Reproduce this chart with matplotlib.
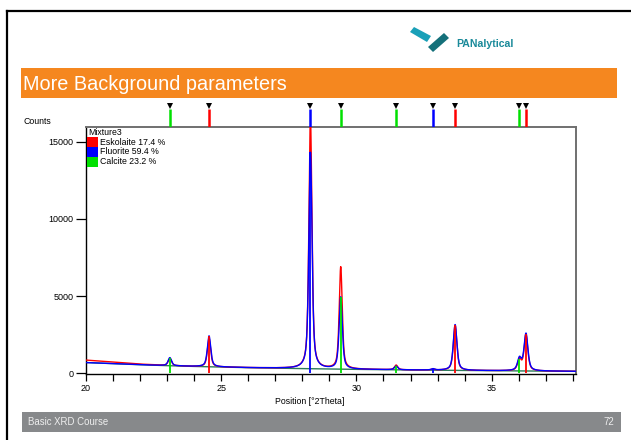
import numpy as np
import matplotlib
matplotlib.use("Agg")
import matplotlib.pyplot as plt
from matplotlib.patches import Rectangle, Polygon
from matplotlib.lines import Line2D

plt.rcParams['font.family'] = ['Liberation Sans', 'DejaVu Sans']

W, H = 631, 440

# ---- data -------------------------------------------------------------
phase_names = ["Eskolaite 17.4 %", "Fluorite 59.4 %", "Calcite 23.2 %"]
phase_colors = ["#ff0000", "#0000ff", "#00e000"]

# reflections: position (°2θ), phase index, calculated and observed net heights
peak_pos = [23.10, 24.55, 28.30, 29.42, 31.47, 32.83, 33.65, 36.03, 36.27]
peak_phase = [2, 0, 1, 2, 2, 1, 0, 2, 0]
peak_calc = [520, 2000, 14000, 4650, 230, 80, 2960, 780, 2400]
peak_obs = [480, 1850, 16200, 6600, 300, 60, 2920, 720, 2330]
peak_fwhm = [0.15, 0.15, 0.14, 0.14, 0.15, 0.15, 0.16, 0.17, 0.17]

# background control points
bg_pos = [20.0, 21.0, 22.0, 23.0, 24.0, 25.0, 26.0, 28.0, 30.0, 32.0, 34.0, 36.0, 38.2]
bg_calc = [700, 630, 560, 500, 450, 410, 370, 310, 260, 220, 190, 160, 130]
bg_obs = [860, 730, 600, 510, 450, 410, 370, 310, 260, 220, 190, 160, 130]

x_ticks_major = [20, 25, 30, 35]
y_ticks = [0, 5000, 10000, 15000]


def pseudo_voigt(x, x0, h, fwhm, eta=0.6):
    g = np.exp(-4 * np.log(2) * ((x - x0) / fwhm) ** 2)
    l = 1.0 / (1 + 4 * ((x - x0) / fwhm) ** 2)
    return h * (eta * l + (1 - eta) * g)


def px(x):
    return x / W


def py(y):
    return 1 - y / H


fig = plt.figure(figsize=(W / 100, H / 100), dpi=100)
fig.patch.set_facecolor("white")

# ---- slide decoration -------------------------------------------------
fig.add_artist(Line2D([px(7), px(7)], [py(11), 0], color="black", lw=1.6))
fig.add_artist(Line2D([px(7), 1], [py(11), py(11)], color="black", lw=1.6))

fig.add_artist(Rectangle((px(21), py(98)), px(617 - 21), 30 / H,
                         facecolor="#f5871f", edgecolor="none"))
fig.text(px(23), py(84), "More Background parameters", color="white",
         fontsize=14.3, va="center", ha="left")

fig.add_artist(Rectangle((px(22), py(432)), px(621 - 22), 20 / H,
                         facecolor="#87898b", edgecolor="none"))
fig.text(px(28), py(422), "Basic XRD Course", color="#eeeeee", fontsize=6.9,
         va="center", ha="left")
fig.text(px(614), py(422), "72", color="#eeeeee", fontsize=6.9,
         va="center", ha="right")

# logo
fig.add_artist(Polygon([(px(410), py(32)), (px(414), py(27)),
                        (px(431), py(36)), (px(427), py(42))],
                       closed=True, facecolor="#1aa0b8", edgecolor="none"))
fig.add_artist(Polygon([(px(428), py(47)), (px(444), py(33)),
                        (px(449), py(38)), (px(433), py(52))],
                       closed=True, facecolor="#14707a", edgecolor="none"))
fig.text(px(456), py(44), "PANalytical", color="#1a8a9a", fontsize=7.6,
         fontweight="bold", va="center", ha="left")

# ---- main axes --------------------------------------------------------
ax = fig.add_axes([px(86), py(374), px(576 - 86), (374 - 127) / H])
x = np.arange(20.0, 38.2, 0.005)

calc = np.interp(x, bg_pos, bg_calc).astype(float)
obs = np.interp(x, bg_pos, bg_obs).astype(float)
for p, hc, ho, w in zip(peak_pos, peak_calc, peak_obs, peak_fwhm):
    calc += pseudo_voigt(x, p, hc, w)
    obs += pseudo_voigt(x, p, ho, w * 0.95)

ax.plot(x, obs, color="#ff0000", lw=1.0, zorder=3)
ax.plot(x, calc, color="#0000ff", lw=1.0, zorder=4)
ax.plot(bg_pos, bg_calc, color="#2c7a5a", lw=1.0, zorder=2)

# reflection sticks inside the plot
for p, ph, hc in zip(peak_pos, peak_phase, peak_calc):
    base = np.interp(p, bg_pos, bg_calc)
    ax.vlines(p, 0, base + hc, color=phase_colors[ph], lw=1.3, zorder=5)

ax.set_xlim(20, 38.12)
ax.set_ylim(-40, 15950)
ax.set_xticks(x_ticks_major)
ax.set_xticks(range(20, 39), minor=True)
ax.set_yticks(y_ticks)
ax.tick_params(axis="both", labelsize=6.5, direction="out", length=5,
               width=0.9, colors="black", pad=2)
ax.tick_params(axis="x", which="minor", length=5, width=0.9)
ax.tick_params(axis="x", which="major", length=5)
ax.tick_params(axis="y", length=7)
for s in ("left", "bottom"):
    ax.spines[s].set_color("black")
    ax.spines[s].set_linewidth(1.0)
for s in ("top", "right"):
    ax.spines[s].set_color("#707070")
    ax.spines[s].set_linewidth(1.4)

fig.text(px(24), py(121), "Counts", fontsize=6.3, va="center", ha="left")
fig.text(px(310), py(401), "Position [°2Theta]", fontsize=6.3, va="center",
         ha="center")

# legend
fig.text(px(88), py(132.5), "Mixture3", fontsize=6.3, va="center", ha="left")
for i, (name, col) in enumerate(zip(phase_names, phase_colors)):
    y0 = 137 + i * 10
    fig.add_artist(Rectangle((px(87), py(y0 + 10)), px(11), 10 / H,
                             facecolor=col, edgecolor="none"))
    fig.text(px(100), py(y0 + 5), name, fontsize=6.3, va="center", ha="left")

# ---- reference pattern strip above the plot --------------------------
axs = fig.add_axes([px(86), py(127), px(576 - 86), 26 / H], sharex=ax)
axs.set_ylim(0, 1)
axs.axis("off")
for p, ph in zip(peak_pos, peak_phase):
    axs.vlines(p, 0, 0.68, color=phase_colors[ph], lw=1.8)
    axs.plot(p, 0.82, marker="v", color="black", markersize=4, mew=0)

fig.savefig("out.png", dpi=100)
